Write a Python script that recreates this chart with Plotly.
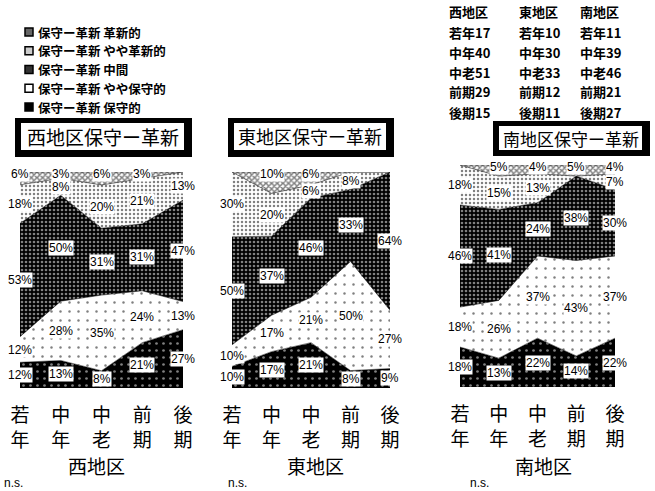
import plotly.graph_objects as go

# ---------------- data ----------------
categories = ["若年", "中年", "中老", "前期", "後期"]
tick_labels = ["若<br>年", "中<br>年", "中<br>老", "前<br>期", "後<br>期"]
series_names = ["保守的", "やや保守的", "中間", "やや革新的", "革新的"]
regions = ["西地区", "東地区", "南地区"]
panel_titles = ["西地区保守ー革新", "東地区保守ー革新", "南地区保守ー革新"]

west_conservative = [12, 13, 8, 21, 27]
west_slightly_conservative = [12, 28, 35, 24, 13]
west_middle = [53, 50, 31, 31, 47]
west_slightly_progressive = [18, 8, 20, 21, 13]
west_progressive = [6, 3, 6, 3, 0]

east_conservative = [10, 17, 21, 8, 9]
east_slightly_conservative = [10, 17, 21, 50, 27]
east_middle = [50, 37, 46, 33, 64]
east_slightly_progressive = [30, 20, 6, 8, 0]
east_progressive = [0, 10, 6, 0, 0]

south_conservative = [18, 13, 22, 14, 22]
south_slightly_conservative = [18, 26, 37, 43, 37]
south_middle = [46, 41, 24, 38, 30]
south_slightly_progressive = [18, 15, 13, 0, 7]
south_progressive = [0, 5, 4, 5, 4]

west_n = [17, 40, 51, 29, 15]
east_n = [10, 30, 33, 12, 11]
south_n = [11, 39, 46, 21, 27]

panels = [
    [west_conservative, west_slightly_conservative, west_middle, west_slightly_progressive, west_progressive],
    [east_conservative, east_slightly_conservative, east_middle, east_slightly_progressive, east_progressive],
    [south_conservative, south_slightly_conservative, south_middle, south_slightly_progressive, south_progressive],
]
sample_sizes = [west_n, east_n, south_n]

# ---------------- styling ----------------
W, H = 655, 491
def px(x):
    return x / W
def py(y):
    return 1 - y / H

CJK = "Noto Sans CJK JP"
patterns = [
    dict(shape=".", bgcolor="black", fgcolor="white", size=7, solidity=0.12),
    dict(shape=".", bgcolor="white", fgcolor="black", size=9, solidity=0.06),
    dict(shape=".", bgcolor="black", fgcolor="white", size=4, solidity=0.35),
    dict(shape=".", bgcolor="white", fgcolor="black", size=4, solidity=0.3),
    dict(shape="x", bgcolor="white", fgcolor="black", size=4, solidity=0.6),
]
fills = ["black", "white", "black", "white", "white"]

x_domains = [(px(20), px(183)), (px(232), px(390)), (px(460), px(615))]
y_domains = [(py(388), py(172)), (py(388), py(172)), (py(387), py(165))]

fig = go.Figure()
annotations = []
shapes = []
label_font = dict(family="Liberation Sans, Arial", size=12, color="black")

for p, series in enumerate(panels):
    ax = "" if p == 0 else str(p + 1)
    xref, yref = "x" + ax, "y" + ax
    for i, vals in enumerate(series):
        fig.add_trace(go.Scatter(
            x=categories, y=vals, name="保守ー革新 " + series_names[i],
            stackgroup="g%d" % p, groupnorm="percent", mode="lines",
            line=dict(color="black", width=0.5),
            fillcolor=fills[i], fillpattern=patterns[i],
            xaxis=xref, yaxis=yref, showlegend=False, hoverinfo="skip",
        ))
    # percentage labels
    for j, cat in enumerate(categories):
        total = sum(s[j] for s in series)
        cum = 0.0
        for i, s in enumerate(series):
            v = s[j]
            share = v / total * 100
            if v > 0:
                yy = cum + share / 2
                if i == len(series) - 1:
                    yy = max(yy, 99.2)
                annotations.append(dict(
                    x=cat, y=yy, xref=xref, yref=yref,
                    text="%d%%" % v, showarrow=False, font=label_font,
                    bgcolor="white", borderpad=0, xanchor="center", yanchor="middle",
                ))
            cum += share
    dom = dict(domain=list(x_domains[p]), type="category", range=[0, 4],
               tickmode="array", tickvals=categories, ticktext=tick_labels,
               showgrid=False, zeroline=False, showline=False, ticks="",
               ticklabelstandoff=14, automargin=False,
               tickfont=dict(family=CJK, size=19, color="black"),
               anchor=yref)
    ydom = dict(domain=list(y_domains[p]), range=[0, 100], visible=False,
                automargin=False, anchor=xref)
    fig.update_layout(**{"xaxis" + ax: dom, "yaxis" + ax: ydom})

# title boxes
title_boxes = [((15, 118, 192, 157), (21, 123, 184, 150), 19),
               ((228, 118, 394, 157), (234, 123, 386, 150), 18),
               ((493, 121, 650, 156), (499, 126, 642, 150), 17)]
for t, (outer, inner, fs) in zip(panel_titles, title_boxes):
    shapes.append(dict(type="rect", xref="paper", yref="paper",
                       x0=px(outer[0]), x1=px(outer[2]), y0=py(outer[3]), y1=py(outer[1]),
                       fillcolor="black", line=dict(width=0)))
    shapes.append(dict(type="rect", xref="paper", yref="paper",
                       x0=px(inner[0]), x1=px(inner[2]), y0=py(inner[3]), y1=py(inner[1]),
                       fillcolor="white", line=dict(width=0)))
    annotations.append(dict(x=px((inner[0] + inner[2]) / 2), y=py((inner[1] + inner[3]) / 2),
                            xref="paper", yref="paper", text=t, showarrow=False,
                            font=dict(family=CJK, size=fs, color="black"),
                            xanchor="center", yanchor="middle"))

# manual legend (top-left), top entry first
legend_order = ["革新的", "やや革新的", "中間", "やや保守的", "保守的"]
legend_fill = ["#666666", "#cccccc", "#333333", "white", "black"]
legend_y = [32, 50.75, 69.5, 88.25, 107]
for name, fc, yy in zip(legend_order, legend_fill, legend_y):
    shapes.append(dict(type="rect", xref="paper", yref="paper",
                       x0=px(25), x1=px(33), y0=py(yy + 4), y1=py(yy - 4),
                       fillcolor=fc, line=dict(color="black", width=1.5)))
    annotations.append(dict(x=px(36), y=py(yy), xref="paper", yref="paper",
                            text="保守ー革新 " + name, showarrow=False,
                            font=dict(family=CJK, size=12.5, color="black", weight="bold"),
                            xanchor="left", yanchor="middle"))

# sample size table (top-right)
col_x = [447, 517, 578]
row_y = [12, 32, 52, 72, 92, 112]
tfont = dict(family=CJK, size=13, color="black", weight="bold")
for c, (reg, ns) in enumerate(zip(regions, sample_sizes)):
    annotations.append(dict(x=px(col_x[c]), y=py(row_y[0]), xref="paper", yref="paper",
                            text=reg, showarrow=False, xanchor="left", yanchor="middle",
                            font=tfont))
    for r, (cat, n) in enumerate(zip(categories, ns)):
        annotations.append(dict(x=px(col_x[c]), y=py(row_y[r + 1]), xref="paper", yref="paper",
                                text="%s%d" % (cat, n), showarrow=False, xanchor="left",
                                yanchor="middle", font=tfont))

# region names and n.s.
region_x = [96, 315, 543]
ns_x = [2, 226, 468]
for reg, rx, nx in zip(regions, region_x, ns_x):
    annotations.append(dict(x=px(rx), y=py(465), xref="paper", yref="paper", text=reg,
                            showarrow=False, xanchor="center", yanchor="middle",
                            font=dict(family=CJK, size=19, color="black")))
    annotations.append(dict(x=px(nx), y=py(483), xref="paper", yref="paper", text="n.s.",
                            showarrow=False, xanchor="left", yanchor="middle",
                            font=dict(family="Liberation Sans, Arial", size=12, color="black")))

fig.update_layout(width=W, height=H, margin=dict(l=0, r=0, t=0, b=0, autoexpand=False),
                  plot_bgcolor="white", paper_bgcolor="white", showlegend=False,
                  annotations=annotations, shapes=shapes)

fig.write_html("out.html", config={"displayModeBar": False},
               post_script="document.body.style.margin='0';")
